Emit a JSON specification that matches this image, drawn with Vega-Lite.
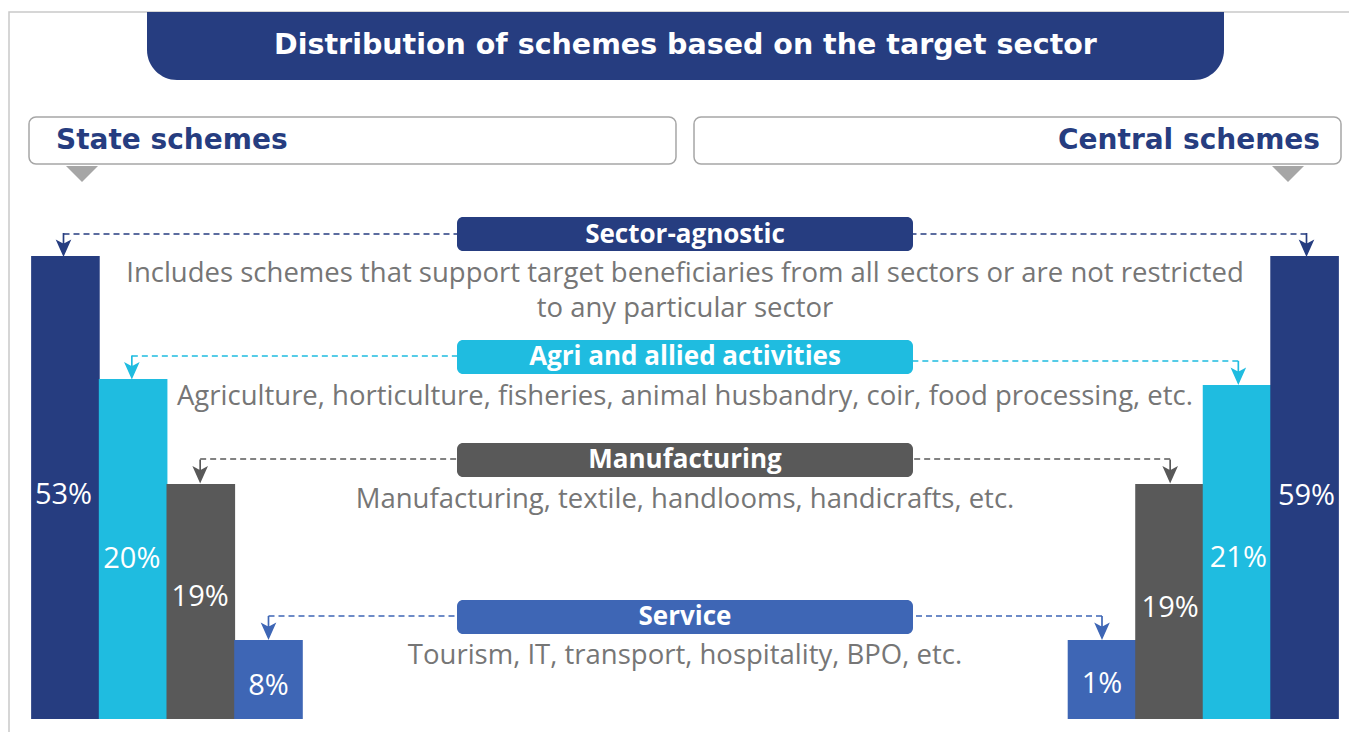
{
  "$schema": "https://vega.github.io/schema/vega-lite/v6.json",
  "width": 1349,
  "height": 732,
  "padding": 0,
  "autosize": "none",
  "background": "white",
  "config": {
    "view": {"stroke": null},
    "axis": {"disable": true},
    "legend": {"disable": true},
    "text": {"font": "Open Sans"}
  },
  "datasets": {
    "title": [{"text": "Distribution of schemes based on the target sector"}],
    "headers": [
      {"side": "State", "label": "State schemes"},
      {"side": "Central", "label": "Central schemes"}
    ],
    "sectors": [
      {"sector": "Sector-agnostic", "desc": "Includes schemes that support target beneficiaries from all sectors or are not restricted\nto any particular sector"},
      {"sector": "Agri and allied activities", "desc": "Agriculture, horticulture, fisheries, animal husbandry, coir, food processing, etc."},
      {"sector": "Manufacturing", "desc": "Manufacturing, textile, handlooms, handicrafts, etc."},
      {"sector": "Service", "desc": "Tourism, IT, transport, hospitality, BPO, etc."}
    ],
    "bars": [
      {"side": "State", "sector": "Sector-agnostic", "share": 0.53},
      {"side": "State", "sector": "Agri and allied activities", "share": 0.20},
      {"side": "State", "sector": "Manufacturing", "share": 0.19},
      {"side": "State", "sector": "Service", "share": 0.08},
      {"side": "Central", "sector": "Service", "share": 0.01},
      {"side": "Central", "sector": "Manufacturing", "share": 0.19},
      {"side": "Central", "sector": "Agri and allied activities", "share": 0.21},
      {"side": "Central", "sector": "Sector-agnostic", "share": 0.59}
    ]
  },
  "resolve": {"scale": {"x": "independent", "y": "independent"}},
  "layer": [
    {
      "data": {"name": "title"},
      "mark": {"type": "rect", "fill": "transparent", "stroke": "#C9C9C9", "strokeWidth": 1.5},
      "encoding": {
        "x": {"field": "text", "type": "nominal", "scale": {"type": "band", "range": [9, 1420], "paddingInner": 0, "paddingOuter": 0}},
        "y": {"field": "text", "type": "nominal", "scale": {"type": "band", "range": [12, 800], "paddingInner": 0, "paddingOuter": 0}}
      }
    },
    {
      "data": {"name": "title"},
      "mark": {"type": "rect", "fill": "#263D80", "cornerRadiusBottomLeft": 30, "cornerRadiusBottomRight": 30},
      "encoding": {
        "x": {"field": "text", "type": "nominal", "scale": {"type": "band", "range": [147, 1224], "paddingInner": 0, "paddingOuter": 0}},
        "y": {"field": "text", "type": "nominal", "scale": {"type": "band", "range": [12, 80], "paddingInner": 0, "paddingOuter": 0}}
      }
    },
    {
      "data": {"name": "title"},
      "mark": {"type": "text", "font": "DejaVu Sans", "fill": "white", "fontSize": 28.5, "fontWeight": "bold", "baseline": "middle", "align": "center", "dy": -1},
      "encoding": {
        "x": {"field": "text", "type": "nominal", "scale": {"type": "band", "range": [147, 1224], "paddingInner": 0, "paddingOuter": 0}},
        "y": {"field": "text", "type": "nominal", "scale": {"type": "band", "range": [12, 80], "paddingInner": 0, "paddingOuter": 0}},
        "text": {"field": "text"}
      }
    },
    {
      "data": {"name": "headers"},
      "mark": {"type": "rect", "fill": "white", "stroke": "#A6A6A6", "strokeWidth": 1.5, "cornerRadius": 7},
      "encoding": {
        "x": {"field": "side", "type": "nominal", "scale": {"type": "band", "domain": ["State", "Central"], "range": [29, 1341], "paddingInner": 0.0271, "paddingOuter": 0}},
        "y": {"datum": "header", "type": "nominal", "scale": {"type": "band", "domain": ["header"], "range": [117, 164], "paddingInner": 0, "paddingOuter": 0}}
      }
    },
    {
      "data": {"name": "headers"},
      "mark": {"type": "point", "shape": "M-1,-0.5L1,-0.5L0,0.5Z", "size": 1024, "filled": true, "fill": "#A6A6A6", "opacity": 1, "strokeWidth": 0},
      "encoding": {
        "x": {"field": "side", "type": "nominal", "scale": {"type": "point", "domain": ["State", "Central"], "range": [82, 1288], "padding": 0}},
        "y": {"datum": "header", "type": "nominal", "scale": {"type": "band", "domain": ["header"], "range": [166, 182], "paddingInner": 0, "paddingOuter": 0}}
      }
    },
    {
      "data": {"name": "headers"},
      "mark": {"type": "text", "font": "DejaVu Sans", "fill": "#263D80", "fontSize": 28, "fontWeight": "bold", "baseline": "middle", "align": {"expr": "datum.side === 'State' ? 'left' : 'right'"}},
      "encoding": {
        "x": {"field": "side", "type": "nominal", "scale": {"type": "point", "domain": ["State", "Central"], "range": [56, 1320], "padding": 0}},
        "y": {"datum": "header", "type": "nominal", "scale": {"type": "band", "domain": ["header"], "range": [117, 164], "paddingInner": 0, "paddingOuter": 0}},
        "text": {"field": "label"}
      }
    },
    {
      "data": {"name": "bars"},
      "transform": [
        {"window": [{"op": "row_number", "as": "col"}]},
        {"window": [{"op": "row_number", "as": "rank"}], "groupby": ["side"], "sort": [{"field": "share", "order": "descending"}]},
        {"filter": {"field": "side", "equal": "State"}}
      ],
      "mark": {"type": "rule", "strokeDash": [6, 4], "strokeWidth": 1.5},
      "encoding": {
        "x": {"field": "col", "type": "quantitative", "scale": {"domain": [1, 4, 5, 8], "range": [63.5, 268.5, 1102, 1306.5]}},
        "x2": {"datum": 4.5},
        "y": {"field": "rank", "type": "quantitative", "scale": {"domain": [1, 2, 3, 4], "range": [234, 356, 459, 616]}},
        "color": {"field": "sector", "type": "nominal", "scale": {"domain": ["Sector-agnostic", "Agri and allied activities", "Manufacturing", "Service"], "range": ["#263D80", "#1FBCE0", "#595959", "#3E66B5"]}}
      }
    },
    {
      "data": {"name": "bars"},
      "transform": [
        {"window": [{"op": "row_number", "as": "col"}]},
        {"window": [{"op": "row_number", "as": "rank"}], "groupby": ["side"], "sort": [{"field": "share", "order": "descending"}]},
        {"filter": {"field": "side", "equal": "Central"}}
      ],
      "mark": {"type": "rule", "strokeDash": [6, 4], "strokeWidth": 1.5},
      "encoding": {
        "x": {"field": "col", "type": "quantitative", "scale": {"domain": [1, 4, 5, 8], "range": [63.5, 268.5, 1102, 1306.5]}},
        "x2": {"datum": 4.5},
        "y": {"field": "rank", "type": "quantitative", "scale": {"domain": [1, 2, 3, 4], "range": [234, 361, 459, 616]}},
        "color": {"field": "sector", "type": "nominal", "scale": {"domain": ["Sector-agnostic", "Agri and allied activities", "Manufacturing", "Service"], "range": ["#263D80", "#1FBCE0", "#595959", "#3E66B5"]}}
      }
    },
    {
      "data": {"name": "bars"},
      "transform": [
        {"window": [{"op": "row_number", "as": "col"}]},
        {"window": [{"op": "row_number", "as": "rank"}], "groupby": ["side"], "sort": [{"field": "share", "order": "descending"}]},
        {"filter": {"field": "side", "equal": "State"}}
      ],
      "mark": {"type": "point", "shape": "M-0.07,-1L0.07,-1L0.07,-0.14L0.65,-0.45L0,1L-0.65,-0.45L-0.07,-0.14Z", "size": 576, "filled": true, "opacity": 1, "strokeWidth": 0},
      "encoding": {
        "x": {"field": "col", "type": "quantitative", "scale": {"domain": [1, 4, 5, 8], "range": [63.5, 268.5, 1102, 1306.5]}},
        "y": {"field": "rank", "type": "quantitative", "scale": {"domain": [1, 2, 3, 4], "range": [245, 367.5, 471.5, 628]}},
        "color": {"field": "sector", "type": "nominal", "scale": {"domain": ["Sector-agnostic", "Agri and allied activities", "Manufacturing", "Service"], "range": ["#263D80", "#1FBCE0", "#595959", "#3E66B5"]}}
      }
    },
    {
      "data": {"name": "bars"},
      "transform": [
        {"window": [{"op": "row_number", "as": "col"}]},
        {"window": [{"op": "row_number", "as": "rank"}], "groupby": ["side"], "sort": [{"field": "share", "order": "descending"}]},
        {"filter": {"field": "side", "equal": "Central"}}
      ],
      "mark": {"type": "point", "shape": "M-0.07,-1L0.07,-1L0.07,-0.14L0.65,-0.45L0,1L-0.65,-0.45L-0.07,-0.14Z", "size": 576, "filled": true, "opacity": 1, "strokeWidth": 0},
      "encoding": {
        "x": {"field": "col", "type": "quantitative", "scale": {"domain": [1, 4, 5, 8], "range": [63.5, 268.5, 1102, 1306.5]}},
        "y": {"field": "rank", "type": "quantitative", "scale": {"domain": [1, 2, 3, 4], "range": [245, 373, 471.5, 628]}},
        "color": {"field": "sector", "type": "nominal", "scale": {"domain": ["Sector-agnostic", "Agri and allied activities", "Manufacturing", "Service"], "range": ["#263D80", "#1FBCE0", "#595959", "#3E66B5"]}}
      }
    },
    {
      "data": {"name": "bars"},
      "transform": [
        {"window": [{"op": "row_number", "as": "col"}]},
        {"window": [{"op": "row_number", "as": "rank"}], "groupby": ["side"], "sort": [{"field": "share", "order": "descending"}]},
        {"filter": {"field": "side", "equal": "State"}}
      ],
      "mark": {"type": "bar", "width": 68.6},
      "encoding": {
        "x": {"field": "col", "type": "quantitative", "scale": {"domain": [1, 4, 5, 8], "range": [63.5, 268.5, 1102, 1306.5]}},
        "y": {"field": "rank", "type": "quantitative", "scale": {"domain": [1, 2, 3, 4, 5], "range": [256, 379, 484, 640, 719]}},
        "y2": {"datum": 5},
        "color": {"field": "sector", "type": "nominal", "scale": {"domain": ["Sector-agnostic", "Agri and allied activities", "Manufacturing", "Service"], "range": ["#263D80", "#1FBCE0", "#595959", "#3E66B5"]}}
      }
    },
    {
      "data": {"name": "bars"},
      "transform": [
        {"window": [{"op": "row_number", "as": "col"}]},
        {"window": [{"op": "row_number", "as": "rank"}], "groupby": ["side"], "sort": [{"field": "share", "order": "descending"}]},
        {"filter": {"field": "side", "equal": "Central"}}
      ],
      "mark": {"type": "bar", "width": 68.6},
      "encoding": {
        "x": {"field": "col", "type": "quantitative", "scale": {"domain": [1, 4, 5, 8], "range": [63.5, 268.5, 1102, 1306.5]}},
        "y": {"field": "rank", "type": "quantitative", "scale": {"domain": [1, 2, 3, 4, 5], "range": [256, 385, 484, 640, 719]}},
        "y2": {"datum": 5},
        "color": {"field": "sector", "type": "nominal", "scale": {"domain": ["Sector-agnostic", "Agri and allied activities", "Manufacturing", "Service"], "range": ["#263D80", "#1FBCE0", "#595959", "#3E66B5"]}}
      }
    },
    {
      "data": {"name": "bars"},
      "transform": [
        {"window": [{"op": "row_number", "as": "col"}]},
        {"window": [{"op": "row_number", "as": "rank"}], "groupby": ["side"], "sort": [{"field": "share", "order": "descending"}]},
        {"filter": {"field": "side", "equal": "State"}}
      ],
      "mark": {"type": "text", "fill": "white", "fontSize": 29, "align": "center", "baseline": "alphabetic"},
      "encoding": {
        "x": {"field": "col", "type": "quantitative", "scale": {"domain": [1, 4, 5, 8], "range": [63.5, 268.5, 1102, 1306.5]}},
        "y": {"field": "rank", "type": "quantitative", "scale": {"domain": [1, 2, 3, 4], "range": [504, 568, 606, 695]}},
        "text": {"field": "share", "type": "quantitative", "format": ".0%"}
      }
    },
    {
      "data": {"name": "bars"},
      "transform": [
        {"window": [{"op": "row_number", "as": "col"}]},
        {"window": [{"op": "row_number", "as": "rank"}], "groupby": ["side"], "sort": [{"field": "share", "order": "descending"}]},
        {"filter": {"field": "side", "equal": "Central"}}
      ],
      "mark": {"type": "text", "fill": "white", "fontSize": 29, "align": "center", "baseline": "alphabetic"},
      "encoding": {
        "x": {"field": "col", "type": "quantitative", "scale": {"domain": [1, 4, 5, 8], "range": [63.5, 268.5, 1102, 1306.5]}},
        "y": {"field": "rank", "type": "quantitative", "scale": {"domain": [1, 2, 3, 4], "range": [505, 567, 617, 693]}},
        "text": {"field": "share", "type": "quantitative", "format": ".0%"}
      }
    },
    {
      "data": {"name": "sectors"},
      "transform": [{"window": [{"op": "row_number", "as": "rank"}]}],
      "mark": {"type": "rect", "height": 34, "cornerRadius": 6},
      "encoding": {
        "x": {"datum": "legend", "type": "nominal", "scale": {"type": "band", "domain": ["legend"], "range": [457, 913], "paddingInner": 0, "paddingOuter": 0}},
        "y": {"field": "rank", "type": "quantitative", "scale": {"domain": [1, 2, 3, 4], "range": [234, 357, 460, 617]}},
        "color": {"field": "sector", "type": "nominal", "scale": {"domain": ["Sector-agnostic", "Agri and allied activities", "Manufacturing", "Service"], "range": ["#263D80", "#1FBCE0", "#595959", "#3E66B5"]}}
      }
    },
    {
      "data": {"name": "sectors"},
      "transform": [{"window": [{"op": "row_number", "as": "rank"}]}],
      "mark": {"type": "text", "fill": "white", "fontSize": 26, "fontWeight": "bold", "align": "center", "baseline": "alphabetic"},
      "encoding": {
        "x": {"datum": "legend", "type": "nominal", "scale": {"type": "band", "domain": ["legend"], "range": [457, 913], "paddingInner": 0, "paddingOuter": 0}},
        "y": {"field": "rank", "type": "quantitative", "scale": {"domain": [1, 2, 3, 4], "range": [243, 365, 468, 625]}},
        "text": {"field": "sector"}
      }
    },
    {
      "data": {"name": "sectors"},
      "transform": [{"window": [{"op": "row_number", "as": "rank"}]}],
      "mark": {"type": "text", "fill": "#767676", "fontSize": 27.5, "align": "center", "baseline": "alphabetic", "lineBreak": "\n", "lineHeight": 35},
      "encoding": {
        "x": {"datum": "legend", "type": "nominal", "scale": {"type": "band", "domain": ["legend"], "range": [457, 913], "paddingInner": 0, "paddingOuter": 0}},
        "y": {"field": "rank", "type": "quantitative", "scale": {"domain": [1, 2, 3, 4], "range": [282, 405, 508, 664]}},
        "text": {"field": "desc"}
      }
    }
  ]
}
